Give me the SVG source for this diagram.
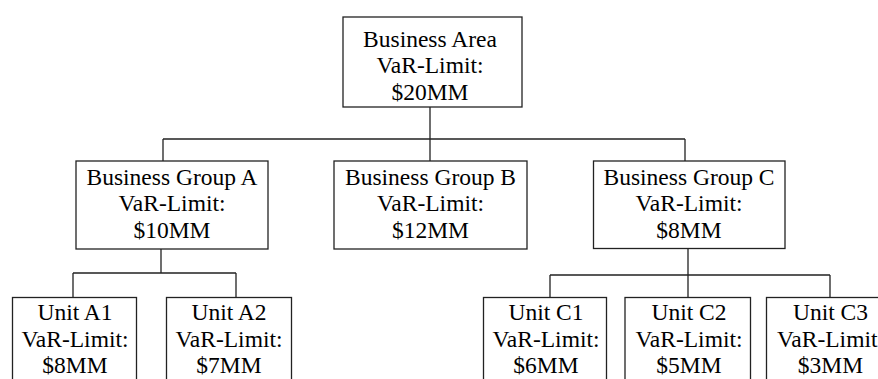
<svg xmlns="http://www.w3.org/2000/svg" width="878" height="379" viewBox="0 0 878 379">
<style>
.box{fill:#fff;stroke:#222;stroke-width:1.3}
.lbl{font-family:"Liberation Serif","Times New Roman",serif;font-size:23.5px;fill:#000;text-anchor:middle}
.con{fill:none;stroke:#222;stroke-width:1.3}
</style>
<rect width="878" height="379" fill="#fff"/>
<g id="connectors">
<path class="con" d="M430,107V161M163,139H685M163,139V161M685,139V161"/>
<path class="con" d="M161,249V273M73,273H236M73,273V297.5M236,273V297.5"/>
<path class="con" d="M688,248.5V297.5M550,275H830M550,275V297.5M830,275V297.5"/>
</g>
<g id="area">
<rect class="box" x="343" y="17" width="179" height="90"/>
<text class="lbl" x="430" y="46.5">Business Area</text>
<text class="lbl" x="430" y="73">VaR-Limit:</text>
<text class="lbl" x="430" y="99.5">$20MM</text>
</g>
<g id="groupA">
<rect class="box" x="76" y="161" width="192" height="88"/>
<text class="lbl" x="172" y="184.5">Business Group A</text>
<text class="lbl" x="172" y="211">VaR-Limit:</text>
<text class="lbl" x="172" y="237.5">$10MM</text>
</g>
<g id="groupB">
<rect class="box" x="334" y="161" width="193" height="88"/>
<text class="lbl" x="430.5" y="184.5">Business Group B</text>
<text class="lbl" x="430.5" y="211">VaR-Limit:</text>
<text class="lbl" x="430.5" y="237.5">$12MM</text>
</g>
<g id="groupC">
<rect class="box" x="593.5" y="161" width="191.5" height="87.5"/>
<text class="lbl" x="689" y="184.5">Business Group C</text>
<text class="lbl" x="689" y="211">VaR-Limit:</text>
<text class="lbl" x="689" y="237.5">$8MM</text>
</g>
<g id="unitA1">
<rect class="box" x="12.5" y="297.5" width="124" height="100"/>
<text class="lbl" x="75" y="320">Unit A1</text>
<text class="lbl" x="75" y="346.5">VaR-Limit:</text>
<text class="lbl" x="75" y="373">$8MM</text>
</g>
<g id="unitA2">
<rect class="box" x="166.5" y="297.5" width="125" height="100"/>
<text class="lbl" x="229" y="320">Unit A2</text>
<text class="lbl" x="229" y="346.5">VaR-Limit:</text>
<text class="lbl" x="229" y="373">$7MM</text>
</g>
<g id="unitC1">
<rect class="box" x="483.5" y="297.5" width="123" height="100"/>
<text class="lbl" x="546" y="320">Unit C1</text>
<text class="lbl" x="546" y="346.5">VaR-Limit:</text>
<text class="lbl" x="546" y="373">$6MM</text>
</g>
<g id="unitC2">
<rect class="box" x="625" y="297.5" width="125.5" height="100"/>
<text class="lbl" x="689" y="320">Unit C2</text>
<text class="lbl" x="689" y="346.5">VaR-Limit:</text>
<text class="lbl" x="689" y="373">$5MM</text>
</g>
<g id="unitC3">
<rect class="box" x="766.5" y="297.5" width="127" height="100"/>
<text class="lbl" x="830.5" y="320">Unit C3</text>
<text class="lbl" x="830.5" y="346.5">VaR-Limit:</text>
<text class="lbl" x="830.5" y="373">$3MM</text>
</g>
</svg>
